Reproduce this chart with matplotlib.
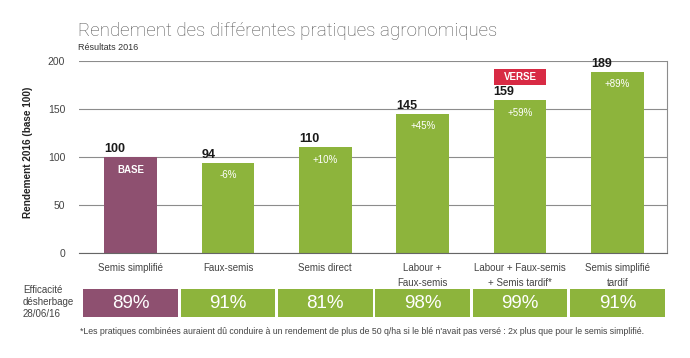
import matplotlib
matplotlib.use('Agg')
import matplotlib.pyplot as plt

plt.rcParams['font.family'] = ['Liberation Sans', 'DejaVu Sans']

# ---- data ----
categories = ['Semis simplifié', 'Faux-semis', 'Semis direct', 'Labour +\nFaux-semis',
              'Labour + Faux-semis\n+ Semis tardif*', 'Semis simplifié\ntardif']
rendement = [100, 94, 110, 145, 159, 189]
inner_labels = ['BASE', '-6%', '+10%', '+45%', '+59%', '+89%']
efficacite = ['89%', '91%', '81%', '98%', '99%', '91%']
verse_index = 4
yticks = [0, 50, 100, 150, 200]

title = 'Rendement des différentes pratiques agronomiques'
subtitle = 'Résultats 2016'
ylabel = 'Rendement 2016 (base 100)'
eff_label = 'Efficacité\ndésherbage\n28/06/16'
footnote = ("*Les pratiques combinées auraient dû conduire à un rendement de plus de 50 q/ha "
            "si le blé n'avait pas versé : 2x plus que pour le semis simplifié.")

purple = '#8E5070'
green = '#8DB43C'
red = '#D82A44'
colors = [purple] + [green] * (len(categories) - 1)

W, H = 690, 358
fig = plt.figure(figsize=(W / 100, H / 100), dpi=100)
ax = fig.add_axes([79 / W, (H - 253) / H, 588 / W, 192 / H])

x = list(range(len(categories)))
bw = 0.54
ax.bar(x, rendement, width=bw, color=colors, zorder=2)
ax.set_xlim(-0.53, len(categories) - 0.49)
ax.set_ylim(0, 200)
ax.set_yticks(yticks)
ax.yaxis.grid(True, color='#8c8c8c', lw=0.8, zorder=0)
for s in ['left', 'top']:
    ax.spines[s].set_visible(False)
ax.spines['right'].set_color('#8c8c8c')
ax.spines['right'].set_linewidth(0.8)
ax.spines['bottom'].set_color('#666666')
ax.spines['bottom'].set_linewidth(0.8)
ax.tick_params(axis='y', length=0, pad=10, labelsize=7.5, labelcolor='#444444')
ax.tick_params(axis='x', length=0, pad=7, labelsize=7, labelcolor='#444444')
ax.set_xticks(x)
ax.set_xticklabels(categories, linespacing=1.6)

for i, (v, lab) in enumerate(zip(rendement, inner_labels)):
    ax.text(i - bw / 2, v + 2, str(v), ha='left', va='bottom', fontsize=9,
            fontweight='bold', color='#1a1a1a', zorder=3)
    ax.text(i, v - 8, lab, ha='center', va='top', fontsize=7, color='white',
            fontweight='bold' if lab == 'BASE' else 'normal', zorder=3)

# VERSE tag
ax.bar(verse_index, 17, bottom=175, width=bw, color=red, zorder=3)
ax.text(verse_index, 183.5, 'VERSE', ha='center', va='center', fontsize=7,
        fontweight='bold', color='white', zorder=4)

# efficiency boxes
ax2 = fig.add_axes([79 / W, (H - 317) / H, 588 / W, 28 / H])
ax2.bar(x, [1] * len(x), width=0.97, color=colors)
ax2.set_xlim(ax.get_xlim())
ax2.set_ylim(0, 1)
ax2.axis('off')
for i, e in enumerate(efficacite):
    ax2.text(i, 0.5, e, ha='center', va='center', fontsize=13.5, color='white')

fig.text(23 / W, 1 - 302 / H, eff_label, ha='left', va='center', fontsize=7,
         color='#444444', linespacing=1.3)
fig.text(80 / W, 1 - 331 / H, footnote, ha='left', va='center', fontsize=6.3,
         color='#444444')
fig.text(78 / W, 1 - 31 / H, title, ha='left', va='center', fontsize=13.5,
         color='#555555', family=['Roboto', 'Liberation Sans'], fontweight='light')
fig.text(78 / W, 1 - 48 / H, subtitle, ha='left', va='center', fontsize=6.5,
         color='#333333')
fig.text(28 / W, 1 - 152 / H, ylabel, rotation=90, ha='center', va='center',
         fontsize=7.2, fontweight='bold', color='#222222')

fig.savefig('out.png', dpi=100)
